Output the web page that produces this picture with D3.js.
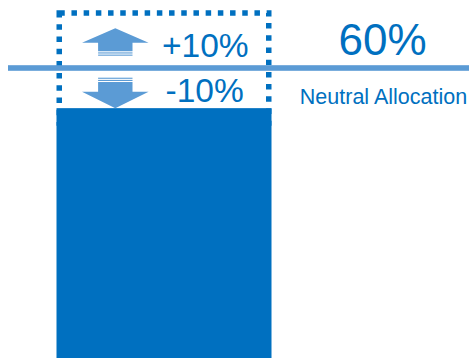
<!DOCTYPE html>
<html>
<head>
<meta charset="utf-8">
<script src="https://cdn.jsdelivr.net/npm/d3@7"></script>
<style>
  html, body { margin: 0; padding: 0; background: #fff; }
  svg { display: block; font-family: "Liberation Sans", Arial, Helvetica, sans-serif; }
</style>
</head>
<body>
<svg id="chart" width="469" height="358"></svg>
<script>
// Allocation values (percent)
const categories = ["Equity"];
const neutralValue = [60];
const bandWidth = [10];          // tactical range around neutral
const currentValue = [52.7];     // current allocation bar
const rangeLabels = ["+10%", "-10%"];
const neutralLabel = ["Neutral Allocation"];

const W = 469, H = 358;
const svg = d3.select("#chart");

const blue = "#0070c0";
const lightBlue = "#5b9bd5";

// Vertical value scale: 60% sits on the neutral line, 70% on the top of the range box
const y = d3.scaleLinear().domain([60, 70]).range([68, 13]);
// Horizontal placement of the single allocation column
const x = d3.scaleBand().domain(categories).range([56.5, 271.5]).padding(0);

const neutral = neutralValue[0];
const band = bandWidth[0];

// Dotted range box (neutral ± band)
const sw = 5.5;
svg.append("rect")
  .attr("x", x(categories[0]) + sw / 2)
  .attr("y", y(neutral + band))
  .attr("width", x.bandwidth() - sw)
  .attr("height", y(neutral - band) - y(neutral + band))
  .attr("fill", "none")
  .attr("stroke", blue)
  .attr("stroke-width", sw)
  .attr("stroke-dasharray", "5.5 6.7");

// Current allocation bar
svg.selectAll("rect.bar")
  .data(currentValue)
  .enter().append("rect")
  .attr("class", "bar")
  .attr("x", x(categories[0]))
  .attr("y", d => y(d))
  .attr("width", x.bandwidth())
  .attr("height", d => H - y(d) + 5)
  .attr("fill", blue);

// Neutral allocation line
svg.append("rect")
  .attr("x", 8)
  .attr("y", y(neutral) - 2.8)
  .attr("width", W - 8)
  .attr("height", 5.6)
  .attr("fill", lightBlue);

// Up / down arrows
const cx = 115.3;
const headHalf = 33.3, shaftHalf = 17.2;
const arrows = svg.append("g").attr("fill", lightBlue);

// up arrow
arrows.append("path").attr("d",
  `M${cx},28.3 L${cx + headHalf},42.8 L${cx + shaftHalf},42.8 L${cx + shaftHalf},51.3
   L${cx - shaftHalf},51.3 L${cx - shaftHalf},42.8 L${cx - headHalf},42.8 Z`);
arrows.append("rect").attr("x", cx - shaftHalf).attr("y", 52.4).attr("width", shaftHalf * 2).attr("height", 1.1);
arrows.append("rect").attr("x", cx - shaftHalf).attr("y", 54.6).attr("width", shaftHalf * 2).attr("height", 1.1);

// down arrow
arrows.append("rect").attr("x", cx - shaftHalf).attr("y", 77.7).attr("width", shaftHalf * 2).attr("height", 1.1);
arrows.append("rect").attr("x", cx - shaftHalf).attr("y", 79.9).attr("width", shaftHalf * 2).attr("height", 1.1);
arrows.append("path").attr("d",
  `M${cx - shaftHalf},82 L${cx + shaftHalf},82 L${cx + shaftHalf},91.7 L${cx + headHalf},91.7
   L${cx},108.3 L${cx - headHalf},91.7 L${cx - shaftHalf},91.7 Z`);

// Range labels
svg.append("text")
  .attr("x", 162).attr("y", 56.8)
  .attr("font-size", 33.5).attr("fill", blue)
  .text(rangeLabels[0]);
svg.append("text")
  .attr("x", 165.5).attr("y", 101.8)
  .attr("font-size", 33.5).attr("fill", blue)
  .text(rangeLabels[1]);

// Neutral value and caption
svg.append("text")
  .attr("x", 382.5).attr("y", 55)
  .attr("text-anchor", "middle")
  .attr("font-size", 44).attr("fill", blue)
  .text(d3.format(".0%")(neutral / 100));
svg.append("text")
  .attr("x", 383.5).attr("y", 104)
  .attr("text-anchor", "middle")
  .attr("font-size", 21.5).attr("fill", blue)
  .text(neutralLabel[0]);
</script>
</body>
</html>
